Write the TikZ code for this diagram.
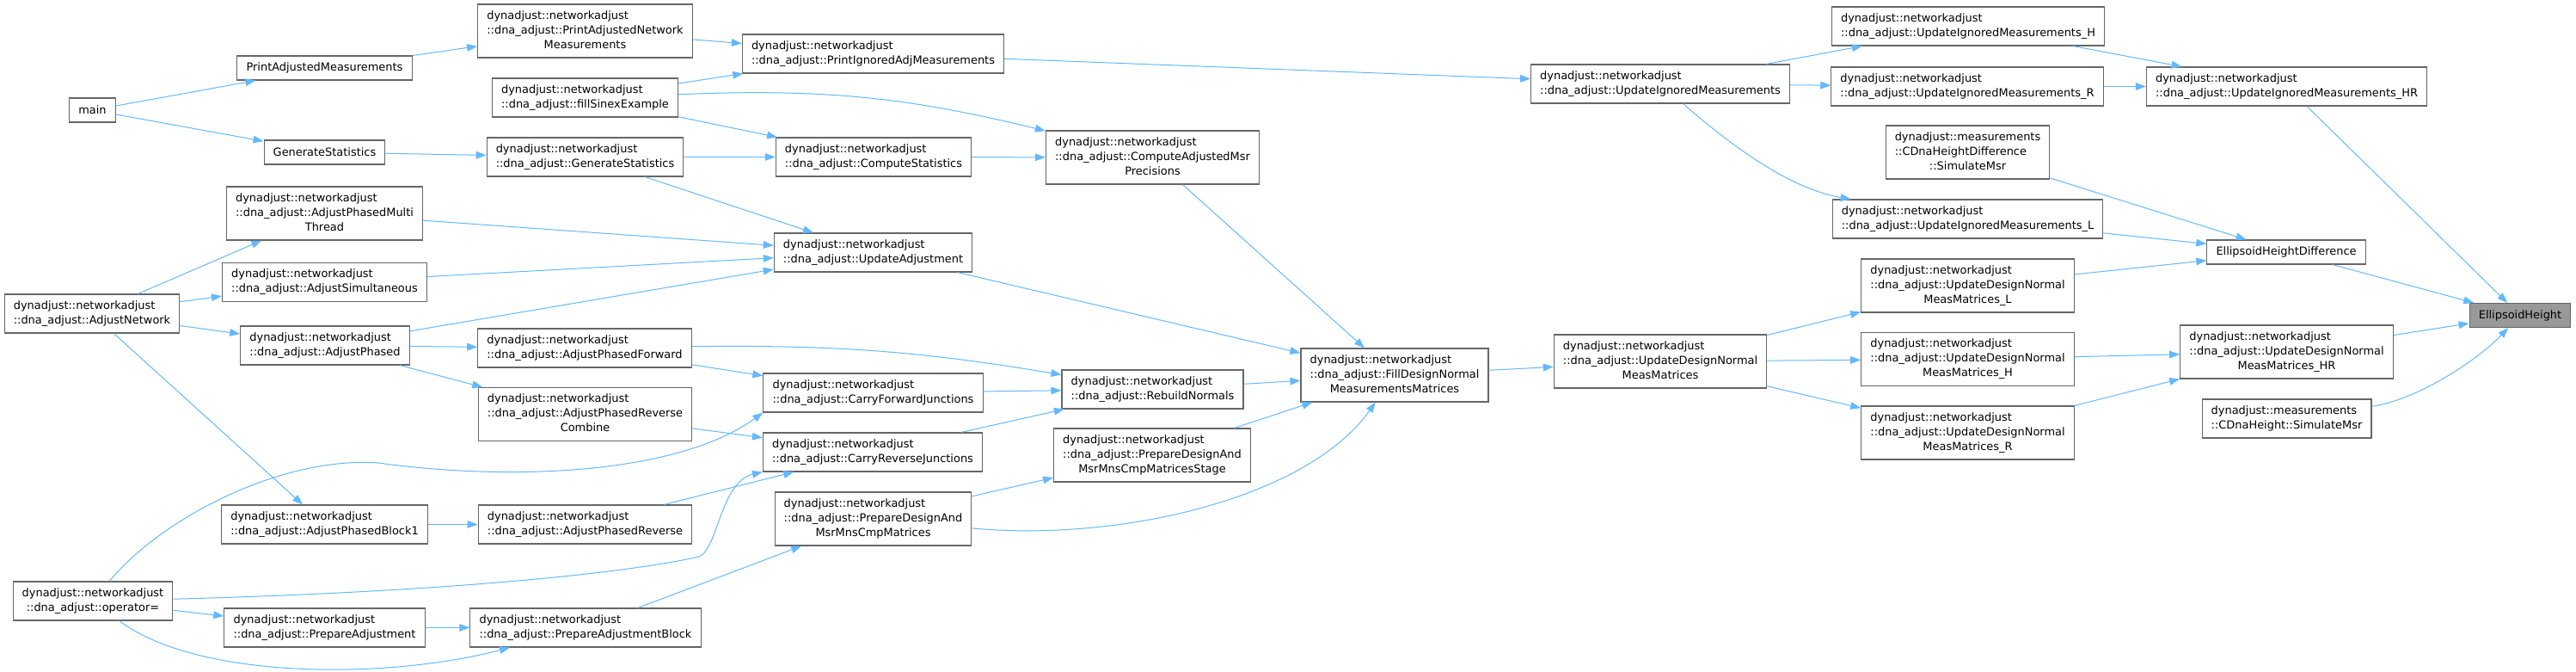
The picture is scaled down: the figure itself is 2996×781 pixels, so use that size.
\documentclass[tikz,border=0pt]{standalone}
\usepackage{fontspec}
\setmainfont{DejaVu Sans}
\usepackage{tikz}
\usetikzlibrary{arrows.meta}
\definecolor{edgeblue}{HTML}{63B8FF}
\definecolor{boxgray}{HTML}{666666}
\definecolor{focusgray}{HTML}{999999}
% labels: lines left aligned, last line centred
\newcommand{\lbltwo}[2]{\begin{tabular}{@{}l@{}}#1\\\multicolumn{1}{@{}c@{}}{#2}\end{tabular}}
\newcommand{\lblthree}[3]{\begin{tabular}{@{}l@{}}#1\\#2\\\multicolumn{1}{@{}c@{}}{#3}\end{tabular}}
\newcommand{\nadj}{dynadjust::networkadjust}
\newcommand{\dna}{::dna\_adjust::}

\begin{document}
\begin{tikzpicture}[
  x=0.75pt, y=-0.75pt,
  box/.style={rectangle, draw=boxgray, line width=0.8pt, fill=white, inner xsep=8pt, inner ysep=2pt, minimum height=#1, font=\fontsize{9.7}{12.75}\selectfont, text=black},
  box/.default=33.75pt,
  arrow/.style={-{Triangle[length=9pt, width=6.5pt]}, line width=0.75pt, color=edgeblue}
]
\useasboundingbox (0,0) rectangle (2996,781);

% Left column
\node[box=21pt] (main) at (107.5,128) {main};
\node[box] (adjnet) at (107,364.5) {\lbltwo{\nadj}{\dna AdjustNetwork}};
\node[box] (opeq) at (108,698.5) {\lbltwo{\nadj}{\dna operator=}};

% Second column
\node[box=21pt] (printadj) at (377.5,79) {PrintAdjustedMeasurements};
\node[box=21pt] (genstat) at (377.5,177) {GenerateStatistics};
\node[box=46.5pt] (multithread) at (377.5,248) {\lblthree{\nadj}{\dna AdjustPhasedMulti}{Thread}};
\node[box] (simult) at (377.5,328) {\lbltwo{\nadj}{\dna AdjustSimultaneous}};
\node[box] (phased) at (378,401.5) {\lbltwo{\nadj}{\dna AdjustPhased}};
\node[box] (block1) at (377.5,609.5) {\lbltwo{\nadj}{\dna AdjustPhasedBlock1}};
\node[box] (prepadj) at (377.5,729.5) {\lbltwo{\nadj}{\dna PrepareAdjustment}};

% Third column
\node[box=46.5pt] (printnet) at (680.5,36) {\lblthree{\nadj}{\dna PrintAdjustedNetwork}{Measurements}};
\node[box] (sinex) at (680.5,113.5) {\lbltwo{\nadj}{\dna fillSinexExample}};
\node[box] (dnagenstat) at (680.5,182.5) {\lbltwo{\nadj}{\dna GenerateStatistics}};
\node[box] (forward) at (680,404.5) {\lbltwo{\nadj}{\dna AdjustPhasedForward}};
\node[box=46.5pt] (revcombine) at (680.5,481.5) {\lblthree{\nadj}{\dna AdjustPhasedReverse}{Combine}};
\node[box] (reverse) at (680.5,609.5) {\lbltwo{\nadj}{\dna AdjustPhasedReverse}};
\node[box] (prepblock) at (681,729.5) {\lbltwo{\nadj}{\dna PrepareAdjustmentBlock}};

% Fourth column
\node[box] (printign) at (1015.5,62.5) {\lbltwo{\nadj}{\dna PrintIgnoredAdjMeasurements}};
\node[box] (compstat) at (1016,182.5) {\lbltwo{\nadj}{\dna ComputeStatistics}};
\node[box] (updadj) at (1015.5,293.5) {\lbltwo{\nadj}{\dna UpdateAdjustment}};
\node[box] (carryfwd) at (1015.5,456.5) {\lbltwo{\nadj}{\dna CarryForwardJunctions}};
\node[box] (carryrev) at (1015,525.5) {\lbltwo{\nadj}{\dna CarryReverseJunctions}};
\node[box=46.5pt] (prepdesign) at (1015.5,603) {\lblthree{\nadj}{\dna PrepareDesignAnd}{MsrMnsCmpMatrices}};

% Fifth column
\node[box=46.5pt] (compprec) at (1340.5,183) {\lblthree{\nadj}{\dna ComputeAdjustedMsr}{Precisions}};
\node[box] (rebuild) at (1340.5,452.5) {\lbltwo{\nadj}{\dna RebuildNormals}};
\node[box=46.5pt] (prepstage) at (1340,529) {\lblthree{\nadj}{\dna PrepareDesignAnd}{MsrMnsCmpMatricesStage}};

% Sixth and seventh columns
\node[box=46.5pt] (filldesign) at (1622,436) {\lblthree{\nadj}{\dna FillDesignNormal}{MeasurementsMatrices}};
\node[box] (updign) at (1931,97.5) {\lbltwo{\nadj}{\dna UpdateIgnoredMeasurements}};
\node[box=46.5pt] (upddesign) at (1931,420) {\lblthree{\nadj}{\dna UpdateDesignNormal}{MeasMatrices}};

% Eighth column
\node[box] (updignH) at (2289,30.5) {\lbltwo{\nadj}{\dna UpdateIgnoredMeasurements\_H}};
\node[box] (updignR) at (2288,100.5) {\lbltwo{\nadj}{\dna UpdateIgnoredMeasurements\_R}};
\node[box=46.5pt] (simhdiff) at (2288.5,177) {\lblthree{dynadjust::measurements}{::CDnaHeightDifference}{::SimulateMsr}};
\node[box] (updignL) at (2288.5,254.5) {\lbltwo{\nadj}{\dna UpdateIgnoredMeasurements\_L}};
\node[box=46.5pt] (upddesignL) at (2288.5,332) {\lblthree{\nadj}{\dna UpdateDesignNormal}{MeasMatrices\_L}};
\node[box=46.5pt] (upddesignH) at (2288.5,417.5) {\lblthree{\nadj}{\dna UpdateDesignNormal}{MeasMatrices\_H}};
\node[box=46.5pt] (upddesignR) at (2288.5,503) {\lblthree{\nadj}{\dna UpdateDesignNormal}{MeasMatrices\_R}};

% Ninth column
\node[box] (updignHR) at (2659.5,100.5) {\lbltwo{\nadj}{\dna UpdateIgnoredMeasurements\_HR}};
\node[box=21pt] (ehdiff) at (2659,293) {EllipsoidHeightDifference};
\node[box=46.5pt] (upddesignHR) at (2659.5,409) {\lblthree{\nadj}{\dna UpdateDesignNormal}{MeasMatrices\_HR}};
\node[box] (simheight) at (2659.5,486.5) {\lbltwo{dynadjust::measurements}{::CDnaHeight::SimulateMsr}};

% Focus node
\node[box=21pt, fill=focusgray] (ellheight) at (2931,366.5) {EllipsoidHeight};

% Arrows from the left column
\draw[arrow] (main) -- (printadj);
\draw[arrow] (main) -- (genstat);
\draw[arrow] (adjnet) -- (multithread);
\draw[arrow] (adjnet) -- (simult);
\draw[arrow] (adjnet) -- (phased);
\draw[arrow] (adjnet) -- (block1);
\draw[arrow] (opeq) .. controls (190,600) and (330,530) .. (440,538) .. controls (600,560) and (790,550) .. (carryfwd.south west);
\draw[arrow] (opeq) .. controls (450,690) and (700,672) .. (813,647) .. controls (835,638) and (838,560) .. (carryrev.south west);
\draw[arrow] (opeq) -- (prepadj);
\draw[arrow] (opeq) .. controls (230,790) and (450,790) .. (prepblock);

% Arrows from the second column
\draw[arrow] (printadj) -- (printnet);
\draw[arrow] (genstat) -- (dnagenstat);
\draw[arrow] (multithread) -- (updadj);
\draw[arrow] (simult) -- (updadj);
\draw[arrow] (phased) -- (updadj);
\draw[arrow] (phased) -- (forward);
\draw[arrow] (phased) -- (revcombine);
\draw[arrow] (block1) -- (reverse);
\draw[arrow] (prepadj) -- (prepblock);

% Arrows from the third column
\draw[arrow] (printnet) -- (printign);
\draw[arrow] (sinex) -- (printign);
\draw[arrow] (sinex) -- (compstat);
\draw[arrow] (sinex) to[bend left=8] (compprec);
\draw[arrow] (dnagenstat) -- (compstat);
\draw[arrow] (dnagenstat) -- (updadj);
\draw[arrow] (forward) to[bend left=5] (rebuild);
\draw[arrow] (forward) -- (carryfwd);
\draw[arrow] (revcombine) -- (carryrev);
\draw[arrow] (reverse) -- (carryrev);
\draw[arrow] (prepblock) -- (prepdesign);

% Arrows from the fourth column
\draw[arrow] (printign) -- (updign);
\draw[arrow] (compstat) -- (compprec);
\draw[arrow] (updadj) -- (filldesign);
\draw[arrow] (carryfwd) -- (rebuild);
\draw[arrow] (carryrev) -- (rebuild);
\draw[arrow] (prepdesign) -- (prepstage);
\draw[arrow] (prepdesign) .. controls (1300,630) and (1520,580) .. (filldesign);

% Arrows from the fifth and sixth columns
\draw[arrow] (compprec) -- (filldesign);
\draw[arrow] (rebuild) -- (filldesign);
\draw[arrow] (prepstage) -- (filldesign);
\draw[arrow] (filldesign) -- (upddesign);

% Arrows from the seventh column
\draw[arrow] (updign) -- (updignH);
\draw[arrow] (updign) -- (updignR);
\draw[arrow] (updign) .. controls (2020,175) and (2085,220) .. (updignL);
\draw[arrow] (upddesign) -- (upddesignL);
\draw[arrow] (upddesign) -- (upddesignH);
\draw[arrow] (upddesign) -- (upddesignR);

% Arrows from the eighth column
\draw[arrow] (updignH) -- (updignHR);
\draw[arrow] (updignR) -- (updignHR);
\draw[arrow] (simhdiff) -- (ehdiff);
\draw[arrow] (updignL) -- (ehdiff);
\draw[arrow] (upddesignL) -- (ehdiff);
\draw[arrow] (upddesignH) -- (upddesignHR);
\draw[arrow] (upddesignR) -- (upddesignHR);

% Arrows into EllipsoidHeight
\draw[arrow] (updignHR) -- (ellheight);
\draw[arrow] (ehdiff) -- (ellheight);
\draw[arrow] (upddesignHR) -- (ellheight);
\draw[arrow] (simheight) .. controls (2810,465) and (2880,420) .. (ellheight);

\end{tikzpicture}
\end{document}
